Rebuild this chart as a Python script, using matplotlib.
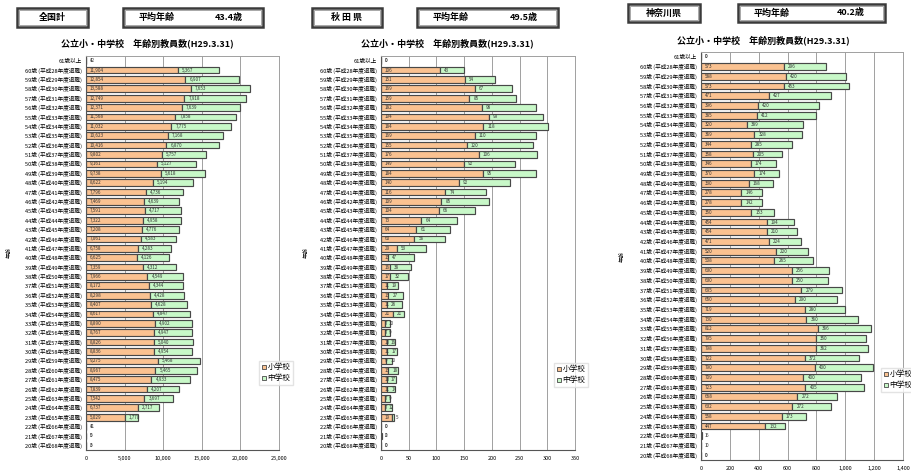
import matplotlib.pyplot as plt
import matplotlib.patches as mpatches
from matplotlib.lines import Line2D

plt.rcParams['font.family'] = ['Noto Sans CJK JP', 'DejaVu Sans']

# --- Data (top row first: 61歳以上, 60歳 ... 20歳) ---
ages = [61, 60, 59, 58, 57, 56, 55, 54, 53, 52, 51, 50, 49, 48, 47, 46, 45, 44, 43, 42, 41,
        40, 39, 38, 37, 36, 35, 34, 33, 32, 31, 30, 29, 28, 27, 26, 25, 24, 23, 22, 21, 20]

# 全国計
nat_elem = [12, 11904, 12854, 13588, 12749, 12371, 11568, 11032, 10623, 10416, 9802, 9161, 9738,
            8622, 7796, 7469, 7591, 7322, 7208, 7061, 6758, 6625, 7359, 7966, 8172, 8298, 8407,
            8617, 8890, 8767, 8826, 8836, 9275, 8967, 8475, 7839, 7542, 6737, 5029, 11, 5, 3]
nat_jhs = [4, 5367, 6907, 7653, 7918, 7639, 7858, 7775, 7168, 6870, 5757, 5127, 5618,
           5194, 4736, 4639, 4717, 4958, 4776, 4583, 4283, 4126, 4312, 4549, 4344, 4428, 4628,
           4847, 4902, 4947, 5040, 4954, 5468, 5465, 4933, 4207, 3697, 2717, 1770, 4, 0, 0]

# 秋田県
aki_elem = [0, 106, 151, 169, 159, 182, 194, 184, 169, 155, 176, 149, 184, 140, 116, 109, 104,
            73, 64, 60, 29, 13, 16, 17, 11, 13, 11, 21, 7, 7, 10, 11, 9, 13, 10, 11, 7, 7, 19,
            0, 0, 0]
aki_jhs = [0, 43, 54, 67, 85, 98, 99, 118, 110, 120, 106, 92, 95, 92, 74, 85, 66, 64, 61, 56,
           53, 47, 38, 32, 19, 27, 26, 21, 10, 9, 16, 17, 10, 18, 17, 14, 9, 12, 5, 0, 2, 0]

# 神奈川県
kan_elem = [0, 573, 588, 573, 471, 396, 385, 320, 369, 344, 358, 346, 370, 330, 278, 278, 350,
            454, 454, 471, 520, 508, 630, 630, 695, 650, 719, 730, 812, 795, 798, 722, 790, 709,
            723, 668, 632, 558, 447, 1, 1, 0]
kan_jhs = [0, 296, 420, 453, 427, 420, 412, 389, 328, 285, 205, 174, 174, 168, 146, 142, 153,
           194, 210, 224, 220, 265, 256, 250, 279, 290, 280, 360, 366, 350, 362, 372, 400, 400,
           405, 272, 272, 173, 132, 6, 0, 0]

row_labels = ["61歳以上"] + [f"{a}歳 (平成{88 - a}年度退職)" for a in ages[1:]]

panels = [
    dict(name="全国計", avg="43.4歳", elem=nat_elem, jhs=nat_jhs,
         xmax=25000, step=5000),
    dict(name="秋 田 県", avg="49.5歳", elem=aki_elem, jhs=aki_jhs,
         xmax=350, step=50),
    dict(name="神奈川県", avg="40.2歳", elem=kan_elem, jhs=kan_jhs,
         xmax=1400, step=200),
]

W, H = 912, 473
# pixel layout: axes (left, right, top, bottom), header boxes, title pos, legend pos, ylabel x
layout = [
    dict(ax=(86, 279, 56, 450), box1=(17, 88, 8, 27), box2=(123, 263, 8, 27), title=(147, 43),
         leg=(259, 361), ylab=9),
    dict(ax=(381, 575, 56, 450), box1=(312, 382, 8, 27), box2=(417, 558, 8, 27), title=(447, 43),
         leg=(554, 363), ylab=306),
    dict(ax=(701, 903, 52, 460), box1=(628, 700, 4, 22), box2=(738, 885, 4, 22), title=(763, 40),
         leg=(881, 368), ylab=622),
]

ORANGE = "#FAC291"
GREEN = "#C8F8C8"
EDGE = "#484848"

fig = plt.figure(figsize=(W / 100, H / 100), dpi=100)


def fx(px):
    return px / W


def fy(py):
    return 1 - py / H


def header_box(x0, x1, y0, y1):
    fig.patches.append(mpatches.Rectangle((fx(x0), fy(y1)), fx(x1) - fx(x0), fy(y0) - fy(y1),
                                          transform=fig.transFigure, fill=False,
                                          edgecolor="#3a3a3a", lw=1.8))
    fig.patches.append(mpatches.Rectangle((fx(x0 + 2), fy(y1 - 2)), fx(x1 - x0 - 4), fy(y0 + 2) - fy(y1 - 2),
                                          transform=fig.transFigure, fill=False,
                                          edgecolor="#9a9a9a", lw=0.6))


ypos = list(range(len(ages)))

for p, lay in zip(panels, layout):
    l, r, t, b = lay["ax"]
    ax = fig.add_axes([fx(l), fy(b), fx(r) - fx(l), fy(t) - fy(b)])
    ax.barh(ypos, p["elem"], height=0.72, color=ORANGE, edgecolor=EDGE, lw=0.85)
    ax.barh(ypos, p["jhs"], left=p["elem"], height=0.72, color=GREEN, edgecolor=EDGE, lw=0.85)

    for y, e, j in zip(ypos, p["elem"], p["jhs"]):
        ax.annotate(f"{e:,}", (0, y), xytext=(2.5, 0), textcoords="offset points",
                    fontsize=3.3, va="center", ha="left", color="#333333")
        ax.annotate(f"{j:,}", (e, y), xytext=(3, 0), textcoords="offset points",
                    fontsize=3.3, va="center", ha="left", color="#333333")

    ax.set_xlim(0, p["xmax"])
    ax.set_ylim(len(ages) - 0.5, -0.5)
    ticks = list(range(0, p["xmax"] + 1, p["step"]))
    ax.set_xticks(ticks)
    ax.set_xticklabels([f"{v:,}" for v in ticks], fontsize=4)
    ax.set_yticks(ypos)
    ax.set_yticklabels(row_labels, fontsize=4.1)
    ax.tick_params(axis="both", length=0, pad=3)
    ax.tick_params(axis="x", pad=4)
    ax.grid(axis="x", color="#a0a0a0", lw=0.7)
    ax.set_axisbelow(True)
    for s in ["top", "right"]:
        ax.spines[s].set_color("#a0a0a0")
        ax.spines[s].set_linewidth(0.7)
    for s in ["left", "bottom"]:
        ax.spines[s].set_color("#555555")
        ax.spines[s].set_linewidth(0.8)

    # header boxes
    header_box(*lay["box1"])
    header_box(*lay["box2"])
    x0, x1, y0, y1 = lay["box1"]
    fig.text(fx((x0 + x1) / 2), fy((y0 + y1) / 2), p["name"], ha="center", va="center",
             fontsize=6.5, fontweight="bold")
    x0, x1, y0, y1 = lay["box2"]
    fig.text(fx(x0 + 16), fy((y0 + y1) / 2), "平均年齢", ha="left", va="center",
             fontsize=6.5, fontweight="bold")
    fig.text(fx(x1 - 20), fy((y0 + y1) / 2), p["avg"], ha="right", va="center",
             fontsize=6.5, fontweight="bold")

    tx, ty = lay["title"]
    fig.text(fx(tx), fy(ty), "公立小・中学校　年齢別教員数(H29.3.31)", ha="center", va="center",
             fontsize=6.5, fontweight="bold")

    fig.text(fx(lay["ylab"]), fy((t + b) / 2), "年齢", rotation=90, ha="center", va="center",
             fontsize=4)

    handles = [Line2D([], [], marker="s", ls="", markersize=3.5, markerfacecolor=ORANGE,
                      markeredgecolor=EDGE, markeredgewidth=0.6),
               Line2D([], [], marker="s", ls="", markersize=3.5, markerfacecolor=GREEN,
                      markeredgecolor=EDGE, markeredgewidth=0.6)]
    lx, ly = lay["leg"]
    fig.legend(handles, ["小学校", "中学校"], loc="upper left", bbox_to_anchor=(fx(lx), fy(ly)),
               frameon=True, fancybox=False, edgecolor="#dddddd", fontsize=5.5,
               handlelength=0.6, handletextpad=0.2, borderpad=0.3, labelspacing=0.4,
               borderaxespad=0)

fig.savefig("out.png", dpi=100)
